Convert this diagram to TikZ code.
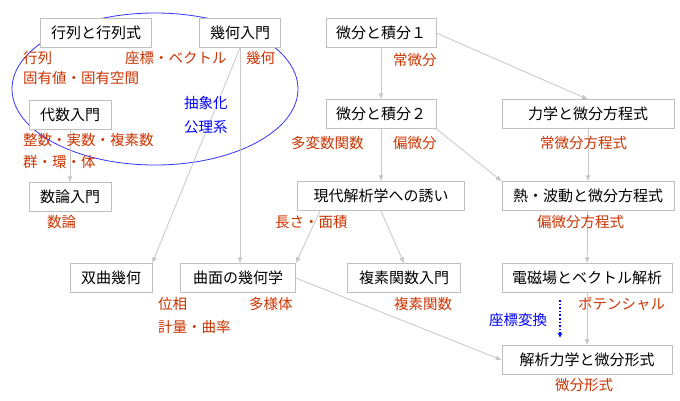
\documentclass[tikz,border=0pt]{standalone}
\usepackage{fontspec}
\setmainfont{Noto Sans CJK JP}
\usetikzlibrary{arrows.meta}
\definecolor{lab}{HTML}{CC3300}
\begin{document}
\begin{tikzpicture}[x=1pt,y=-1pt,
  box/.style={draw=black!25,fill=white,minimum height=29pt,inner xsep=4pt,font=\fontsize{15}{17}\selectfont},
  lb/.style={text=lab,anchor=west,inner sep=0pt,font=\fontsize{14.5}{16}\selectfont},
  bl/.style={lb,text=blue},
  ar/.style={draw=black!22,-{Latex[length=6pt,width=5pt]},line width=0.8pt}]
\useasboundingbox[fill=white] (0,0) rectangle (680,400);
\draw[blue!80,line width=0.8pt] (155,89) ellipse [x radius=143, y radius=76];
\node[box,minimum width=111pt] (a) at (96,33) {行列と行列式};
\node[box,minimum width=81pt] (b) at (240,33) {幾何入門};
\node[box,minimum width=110pt] (c) at (381,33) {微分と積分１};
\node[box,minimum width=82pt] (d) at (70,115) {代数入門};
\node[box,minimum width=110pt] (e) at (381,114) {微分と積分２};
\node[box,minimum width=172pt] (f) at (588,114) {力学と微分方程式};
\node[box,minimum width=82pt] (g) at (70,197) {数論入門};
\node[box,minimum width=167pt] (h) at (381,196) {現代解析学への誘い};
\node[box,minimum width=172pt] (i) at (588,196) {熱・波動と微分方程式};
\node[box,minimum width=82pt] (j) at (111,278) {双曲幾何};
\node[box,minimum width=115pt] (k) at (238,278) {曲面の幾何学};
\node[box,minimum width=113pt] (l) at (404,278) {複素関数入門};
\node[box,minimum width=170pt] (m) at (587,278) {電磁場とベクトル解析};
\node[box,minimum width=170pt] (n) at (587,360) {解析力学と微分形式};
\coordinate (bs) at (240,48);
\draw[ar] (d) -- (g);
\draw[ar] (bs) -- (j.north east);
\draw[ar] (bs) -- (k.north -| bs);
\draw[ar] (c) -- (e);
\draw[ar] (c.east) -- (f.north);
\draw[ar] (e) -- (h);
\draw[ar] (e.south east) -- (i.north west);
\draw[ar] (f) -- (i);
\draw[ar] (i) -- (m);
\draw[ar] (m) -- (n);
\coordinate (h1) at (320,211);
\draw[ar] (h1) -- (k.north east);
\coordinate (h2) at (381,211);
\draw[ar] (h2) -- (l.north);
\draw[ar] (k.east) -- (n.west);
\coordinate (t1) at (560,300); \coordinate (t2) at (560,338);
\draw[blue,dotted,line width=1.6pt,-{Latex[length=5pt,width=5pt]}] (t1) -- (t2);
\node[lb] at (23,58) {行列};
\node[lb] at (23,78) {固有値・固有空間};
\node[lb] at (125,58) {座標・ベクトル};
\node[lb] at (246,58) {幾何};
\node[lb] at (393,60) {常微分};
\node[lb] at (23,140) {整数・実数・複素数};
\node[lb] at (23,162) {群・環・体};
\node[bl] at (184,103) {抽象化};
\node[bl] at (184,127) {公理系};
\node[lb] at (291,143) {多変数関数};
\node[lb] at (393,143) {偏微分};
\node[lb] at (540,143) {常微分方程式};
\node[lb] at (47,222) {数論};
\node[lb] at (275,222) {長さ・面積};
\node[lb] at (537,222) {偏微分方程式};
\node[lb] at (158,304) {位相};
\node[lb] at (158,327) {計量・曲率};
\node[lb] at (249,304) {多様体};
\node[lb] at (394,304) {複素関数};
\node[lb] at (578,304) {ポテンシャル};
\node[bl] at (489,320) {座標変換};
\node[lb] at (555,385) {微分形式};
\end{tikzpicture}
\end{document}
